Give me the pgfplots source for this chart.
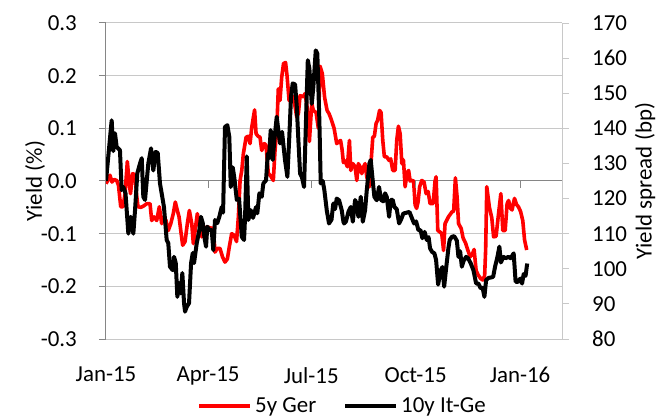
\documentclass[border=0pt]{standalone}
\usepackage{fontspec}
\setmainfont{Carlito}
\usepackage{pgfplots}
\pgfplotsset{compat=1.18}
\definecolor{gridgray}{RGB}{200,200,200}
\definecolor{axisgray}{RGB}{134,134,134}
\definecolor{exred}{RGB}{255,0,0}
\pgfplotsset{every axis/.append style={
  font=\fontsize{23}{27}\selectfont,
  /pgf/number format/assume math mode=true,
  scale only axis, width=456bp, height=316bp,
  at={(0,0)}, anchor=south west,
  xmin=0, xmax=402,
  tick align=outside, major tick length=7bp,
}}
\begin{document}
\begin{tikzpicture}
\begin{axis}[
  ymin=-0.3, ymax=0.3,
  axis x line*=bottom, axis y line*=left,
  x axis line style={draw=gridgray, line width=1bp, -},
  y axis line style={draw=axisgray, line width=1bp, -},
  xtick={0,90,181,273,365},
  xticklabels={Jan-15,Apr-15,Jul-15,Oct-15,Jan-16},
  x tick style={draw=none},
  xticklabel style={inner sep=0pt, anchor=north, yshift=-21bp},
  ytick={-0.3,-0.2,-0.1,0,0.1,0.2,0.3},
  y tick style={draw=axisgray, line width=1bp},
  yticklabel style={inner sep=0pt, anchor=east, xshift=-22bp,
    /pgf/number format/fixed, /pgf/number format/fixed zerofill, /pgf/number format/precision=1},
  ymajorgrids, grid style={draw=gridgray, line width=1bp},
  extra y ticks={0}, extra y tick labels={},
  extra y tick style={grid style={draw=axisgray, line width=1bp}, major tick length=0pt},
  ylabel={Yield (\%)},
  ylabel style={at={(axis description cs:-0.1557,0.5)}, anchor=center},
  legend columns=2,
  legend style={draw=none, fill=none, at={(axis description cs:0.52,-0.212)}, anchor=center,
    /tikz/every even column/.append style={column sep=24bp}, inner sep=0pt,
    nodes={inner sep=3bp}},
  legend image code/.code={\draw[#1] (0bp,0bp) -- (51bp,0bp);},
]
\addplot[exred, line width=3.6bp, line join=round] coordinates {
(0,-0.005)(1.8,0.002)(3.5,0.011)(5.3,-0.002)(7.1,0.003)(9.4,0.001)(11,-0.008)(13,-0.049)(15,-0.049)(16.8,-0.024)(18.8,0.037)(20.5,-0.005)(21.6,-0.024)(23.5,0.014)(25.6,0.012)(26.9,-0.025)(28.2,-0.049)(30.9,-0.05)(33.5,-0.047)(35.9,-0.043)(38.8,-0.043)(40.3,-0.075)(42.3,-0.068)(44.7,-0.075)(47,-0.049)(49.1,-0.081)(51.1,-0.068)(52.9,-0.075)(54.9,-0.094)(57.1,-0.081)(59.3,-0.062)(61.1,-0.040)(62.9,-0.056)(64.4,-0.068)(65.9,-0.094)(67.6,-0.122)(69.7,-0.115)(71.7,-0.081)(73.5,-0.056)(75.6,-0.081)(77,-0.119)(78.5,-0.095)(80.5,-0.062)(82.2,-0.081)(84.4,-0.106)(86.4,-0.094)(88.8,-0.087)(91.7,-0.089)(94.6,-0.090)(96.1,-0.135)(98.1,-0.128)(100.5,-0.128)(102.7,-0.144)(104.9,-0.154)(107,-0.148)(108.7,-0.125)(110.8,-0.100)(112.9,-0.103)(115.1,-0.115)(116.7,-0.068)(118.2,0.001)(119.7,0.020)(121.1,0.052)(123.5,0.083)(125.5,0.085)(127,0.071)(128.5,0.102)(131,0.135)(132.3,0.090)(134,0.085)(135.8,0.083)(137.3,0.058)(139.6,0.071)(141.1,0.068)(143.1,0.014)(145.1,0.010)(147.5,0.001)(149,0.058)(150.5,0.096)(151.9,0.175)(153.4,0.153)(154.9,0.197)(156.5,0.223)(158.3,0.225)(159.6,0.2)(161.4,0.153)(163.8,0.150)(165.3,0.160)(168.2,0.121)(169.6,0.128)(171.1,0.162)(174,0.160)(175.5,0.166)(177.3,0.140)(179.3,0.075)(181.4,0.147)(182.8,0.134)(185.2,0.13)(187.2,0.100)(188.7,0.218)(190.7,0.204)(192.7,0.159)(194.9,0.134)(196.6,0.128)(198.4,0.118)(201.1,0.100)(203.4,0.071)(205.5,0.075)(206.8,0.077)(208.1,0.06)(209.3,0.035)(210.8,0.038)(212.8,0.027)(214.6,0.077)(215.8,0.020)(217.6,0.033)(219.6,0.027)(221.1,0.001)(222.5,0.033)(224,0.027)(225.5,0.014)(227.1,0.027)(228.4,0.033)(229.9,0.008)(232.2,-0.011)(233.4,0.027)(235.2,0.083)(236.6,0.085)(238.1,0.109)(239.4,0.115)(241.2,0.134)(242.5,0.130)(244,0.077)(245.4,0.046)(247.4,0.046)(249.6,0.039)(251,0.042)(252.8,0.020)(254.9,0.020)(256.3,0.077)(257.8,0.104)(259.3,0.090)(260.8,0.033)(262.2,0.040)(263.7,-0.011)(265.5,0.016)(266.8,0.020)(268.1,0.0)(269.6,0.001)(271.2,0.0)(272.5,-0.045)(273.8,-0.052)(275.1,-0.04)(276.5,-0.011)(278.4,0.001)(280.4,-0.002)(282.2,-0.024)(284,-0.020)(285.7,-0.043)(288.4,-0.043)(290.1,0.0)(291,0.008)(292.5,-0.094)(294.5,-0.097)(296,-0.100)(297.6,-0.132)(298.9,-0.081)(301.9,-0.068)(304.9,-0.059)(306.5,-0.057)(308,0.006)(309.5,-0.03)(310.8,-0.081)(313.1,-0.09)(314.8,-0.108)(317,-0.118)(318.8,-0.13)(321,-0.144)(322.8,-0.14)(324.5,-0.13)(326.3,-0.17)(328,-0.178)(330.2,-0.185)(332,-0.188)(333.8,-0.18)(334.7,-0.13)(335.7,-0.011)(338,-0.050)(340.1,-0.070)(341.7,-0.106)(343.9,-0.105)(345.9,-0.065)(348.1,-0.024)(349.8,-0.094)(351.9,-0.094)(353.6,-0.043)(354.9,-0.037)(356.7,-0.052)(358,-0.055)(360.1,-0.033)(362,-0.045)(363.6,-0.049)(365.5,-0.058)(367.4,-0.075)(369,-0.112)(370.9,-0.131)
};
\addlegendentry{5y Ger}
\addlegendimage{black, line width=4bp}
\addlegendentry{10y It-Ge}
\pgfplotsinvokeforeach{90,181,273,365}{\draw[axisgray, line width=1bp] (axis cs:#1,0) -- ++(0bp,-7bp);}
\end{axis}
\begin{axis}[
  ymin=80, ymax=170,
  axis x line=none, axis y line*=right,
  y axis line style={draw=gridgray, line width=1bp, -},
  ytick={80,90,100,110,120,130,140,150,160,170},
  y tick style={draw=gridgray, line width=1bp},
  yticklabel style={inner sep=0pt, anchor=west, xshift=23bp},
  ylabel={Yield spread (bp)},
  ylabel style={at={(axis description cs:1.182,0.5)}, anchor=center},
]
\addplot[black, line width=4bp, line join=round] coordinates {
(0,125)(2.6,134)(5,142.3)(6.4,133.5)(7.9,138.6)(9.4,134.7)(12.3,133.8)(13.8,122.4)(15.3,123.3)(17.2,121.5)(19.7,110)(21.8,114.8)(24.1,110)(25.6,116.7)(27.6,127.2)(30,130)(31.5,131.5)(32.9,120.5)(34.4,119.6)(37.3,130)(39.7,134.3)(41.7,128)(43.8,133.3)(45.6,133)(47.6,124.3)(51.1,117.6)(53.5,108.2)(54.9,107.3)(56.4,100.6)(58.8,99.6)(60,103.4)(61.5,101.6)(62.9,92)(64.4,95.9)(65.9,93)(67.3,98.8)(68.8,90.2)(69.7,87.8)(71.2,89.2)(73.2,90.2)(75,101.6)(76.5,104.5)(77.6,101.6)(80,107.3)(82.3,111)(83.7,114.8)(85.3,113)(86.7,109.1)(88.2,106.3)(89.3,112)(91.3,111)(93.2,111)(94.6,105.3)(96.1,113.9)(98.1,113)(99.9,114.8)(102,117.6)(103.2,116)(104.9,140.4)(107,140.9)(108.7,137.6)(110,123.3)(111.7,128.9)(113.1,126)(115.3,119.6)(117.3,120)(119.7,109.1)(121.7,108.2)(122.6,114.8)(124.1,132)(125.5,113.9)(127.6,116.7)(129.6,114.5)(132.3,117.6)(133.4,115.8)(135.2,121.5)(137.3,120.5)(138.7,124.3)(141.1,125.2)(142.6,132.8)(143.7,131.5)(145.2,139.5)(147,131)(148.4,136.6)(150.5,143.3)(151.9,139.5)(153.4,135.7)(155.2,139)(157.8,131)(159.9,126.2)(161.6,137.6)(163.1,149)(164.6,152.8)(166.7,152.5)(168.2,146.1)(169.6,136.6)(171.1,127.1)(172.8,126)(174.6,123.3)(176.4,143.3)(177.9,159.4)(179.3,157)(181.4,147)(182.8,151.8)(184.9,162.2)(186.3,161.3)(188.1,142.3)(189.3,124.3)(191.1,125)(192.5,122.4)(194.6,116.7)(196.6,112.9)(198.8,114)(200.4,118.6)(201.9,117)(203.4,120)(205.5,119.5)(207.8,116.7)(209.3,113.4)(209.9,112.9)(211.6,113.5)(213.7,116.2)(215.8,117.6)(217.6,113.4)(219.6,119.6)(221.1,118.5)(222.5,114.8)(224.6,120.5)(226.4,113.4)(228.4,116.7)(229.9,122.4)(232.2,130)(233.4,131)(234.8,126.2)(236.6,120.5)(238.7,119.5)(240.7,123.3)(242.5,119.6)(244.5,119.2)(246,121.5)(247.5,120.5)(249.6,114.8)(251,119.6)(252.8,119.6)(254.2,117.6)(256.3,117)(258.4,112.9)(260.1,114)(262.2,115.8)(262.8,115.8)(265.2,116)(267.5,116.2)(269.6,114.5)(271.6,112.9)(273.4,113.5)(275.4,111)(277.3,111)(278.9,108.7)(280.9,110.5)(282.8,108.2)(284.4,109)(285.7,105.8)(287.5,104.8)(289.5,104.4)(291,102.5)(292.8,95.5)(295.1,99.6)(296.6,100.5)(298.1,94.9)(299.8,100)(301.9,106)(303,108.2)(304.9,109.1)(306.9,109.3)(309.3,108)(310.7,103.4)(312.2,105)(313.7,100.6)(315.3,102.3)(317.5,103.4)(319.2,103)(321.6,101.5)(323.9,99.6)(326.3,95.8)(328.3,95.8)(330.4,94.4)(332,94.6)(333.6,92)(335.1,96.8)(337.3,97.4)(339.1,97.5)(341.3,97.7)(343,100.6)(345.1,103.4)(346.8,106.3)(348.1,101.8)(350.4,103.4)(352.3,103)(354.8,103.4)(356.7,103)(359.4,104.4)(361.1,96.3)(363.3,96.3)(365.1,97.2)(366.8,95.8)(368.2,98.5)(369.9,98)(371.3,101.5)
};
\end{axis}
\pgfresetboundingbox
\path (-106bp,-81bp) rectangle (557bp,339bp);
\end{tikzpicture}
\end{document}
